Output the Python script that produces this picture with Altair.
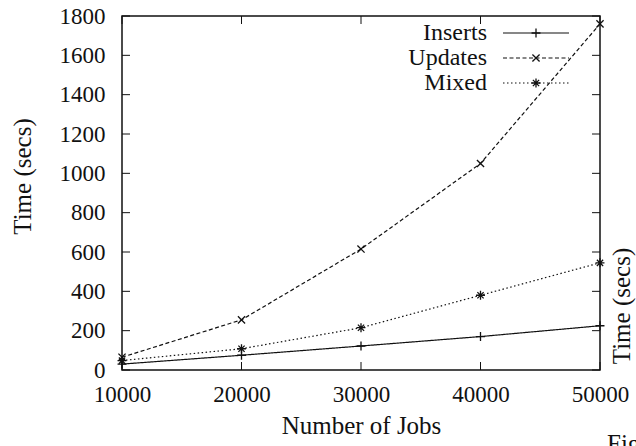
import altair as alt
import pandas as pd

# ---- data ----
series = ["Inserts", "Updates", "Mixed"]
jobs = [10000, 20000, 30000, 40000, 50000]
inserts = [30, 75, 122, 170, 225]
updates = [65, 255, 615, 1050, 1760]
mixed = [48, 108, 215, 380, 545]
x_ticks = [10000, 20000, 30000, 40000, 50000]
y_ticks = [0, 200, 400, 600, 800, 1000, 1200, 1400, 1600, 1800]
x_title = "Number of Jobs"
y_title = "Time (secs)"
side_text = ["Time (secs)"]
caption_text = ["Figure"]

rows = []
for name, vals in zip(series, [inserts, updates, mixed]):
    for j, v in zip(jobs, vals):
        rows.append({"series": name, "jobs": j, "time": v})
df = pd.DataFrame(rows)
legend_df = pd.DataFrame({"series": series})
dfx = pd.DataFrame({"jobs": x_ticks})
dfy = pd.DataFrame({"time": y_ticks})

W, H = 478, 354
FONT = "Liberation Serif"
INK = "#111111"
TL = 8  # inward tick length

xs = alt.Scale(domain=[10000, 50000], nice=False, zero=False)
ys = alt.Scale(domain=[0, 1800], nice=False)

plus_path = "M-1,0L1,0M0,-1L0,1"
x_path = "M-0.8,-0.8L0.8,0.8M-0.8,0.8L0.8,-0.8"
star_path = "M-1,0L1,0M0,-1L0,1M-0.7,-0.7L0.7,0.7M-0.7,0.7L0.7,-0.7"
shape_scale = alt.Scale(domain=series, range=[plus_path, x_path, star_path])
dash_scale = alt.Scale(domain=series, range=[[1, 0], [4, 2.5], [1.5, 2.5]])

x_axis = alt.Axis(values=x_ticks, format="d", labelPadding=13, labelFlush=False,
                  title=x_title, titleY=63, titleBaseline="alphabetic")
y_axis = alt.Axis(values=y_ticks, format="d", labelPadding=17, labelFlush=False,
                  title=y_title, titleX=-100, titleY=160,
                  titleAngle=270, titleAlign="center", titleBaseline="middle")

X = alt.X("jobs:Q", scale=xs, axis=x_axis, title=x_title)
Y = alt.Y("time:Q", scale=ys, axis=y_axis, title=y_title)

lines = alt.Chart(df).mark_line(color=INK, strokeWidth=1.2).encode(
    x=X, y=Y,
    strokeDash=alt.StrokeDash("series:N", scale=dash_scale, legend=None),
    detail="series:N",
)
points = alt.Chart(df).mark_point(filled=False, color=INK, strokeWidth=1.3, size=80, opacity=1).encode(
    x=X, y=Y,
    shape=alt.Shape("series:N", scale=shape_scale, legend=None),
)

tick_bottom = alt.Chart(dfx).mark_rule(color=INK, strokeWidth=1).encode(
    x=X, y=alt.value(H), y2=alt.value(H - TL))
tick_top = alt.Chart(dfx).mark_rule(color=INK, strokeWidth=1).encode(
    x=X, y=alt.value(0), y2=alt.value(TL))
tick_left = alt.Chart(dfy).mark_rule(color=INK, strokeWidth=1).encode(
    y=Y, x=alt.value(0), x2=alt.value(TL))
tick_right = alt.Chart(dfy).mark_rule(color=INK, strokeWidth=1).encode(
    y=Y, x=alt.value(W), x2=alt.value(W - TL))

# gnuplot-style key: label on the left, line sample with marker on the right
key_layers = []
for i, name in enumerate(series):
    row_y = 17 + 25 * i
    base = alt.Chart(legend_df).transform_filter(alt.datum.series == name)
    key_layers.append(base.mark_text(align="right", baseline="middle", font=FONT,
                                     fontSize=24, color=INK).encode(
        x=alt.value(365), y=alt.value(row_y), text="series:N"))
    key_layers.append(base.mark_rule(color=INK, strokeWidth=1.2).encode(
        x=alt.value(381), x2=alt.value(447), y=alt.value(row_y),
        strokeDash=alt.StrokeDash("series:N", scale=dash_scale, legend=None)))
    key_layers.append(base.mark_point(filled=False, color=INK, strokeWidth=1.3, size=80,
                                      opacity=1).encode(
        x=alt.value(414), y=alt.value(row_y),
        shape=alt.Shape("series:N", scale=shape_scale, legend=None)))

side = alt.Chart(pd.DataFrame({"t": side_text})).mark_text(
    font=FONT, fontSize=25, color=INK, angle=270, align="center", baseline="middle").encode(
    x=alt.value(500), y=alt.value(290), text="t:N")
caption = alt.Chart(pd.DataFrame({"t": caption_text})).mark_text(
    font=FONT, fontSize=25, color=INK, align="left", baseline="alphabetic").encode(
    x=alt.value(485), y=alt.value(436), text="t:N")

chart = alt.layer(lines, points, tick_bottom, tick_top, tick_left, tick_right,
                  *key_layers, side, caption).properties(
    width=W, height=H,
    autosize="none",
    padding={"left": 122, "top": 16, "right": 36, "bottom": 76},
    background="white",
).configure_view(stroke=INK, strokeWidth=1.5).configure_axis(
    labelFont=FONT, labelFontSize=23, labelColor=INK, labelFontWeight="normal",
    titleFont=FONT, titleFontSize=25, titleFontWeight="normal", titleColor=INK,
    ticks=False, tickSize=0, domain=False, grid=False, labelFlush=False,
)

chart.save("out.html", embed_options={"renderer": "svg", "actions": False})
